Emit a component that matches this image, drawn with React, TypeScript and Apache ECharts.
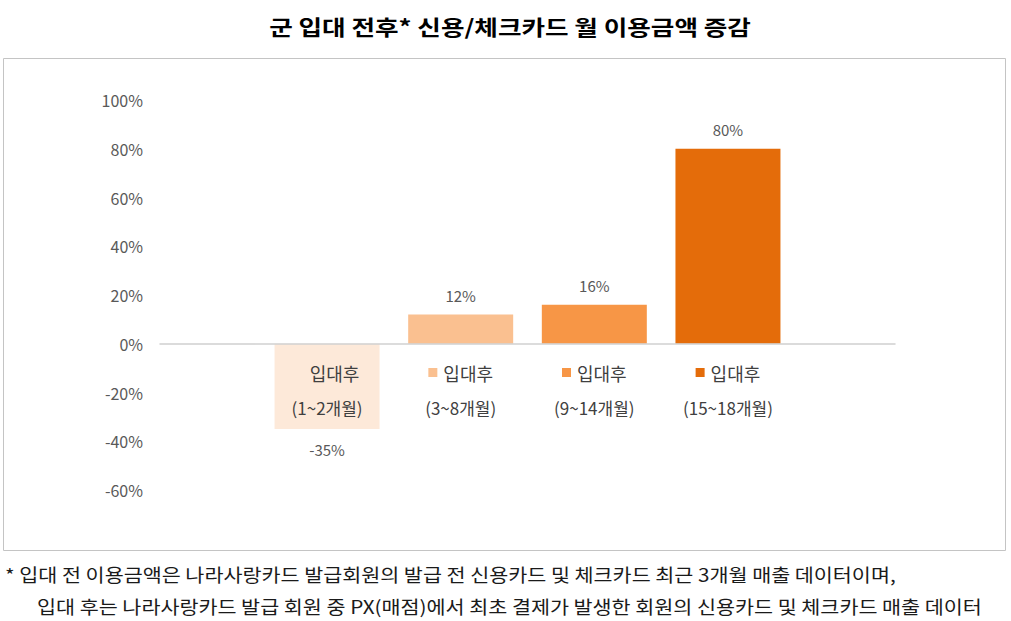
import React, { useRef, useEffect } from 'react';
import * as echarts from 'echarts';

const FONT = '"Noto Sans CJK KR", "Noto Sans", sans-serif';

// 입대 후 기간별 월 이용금액 증감률 (%)
const periods = ['1~2개월', '3~8개월', '9~14개월', '15~18개월'];
const changes = [-35, 12, 16, 80];
const barColors = ['#FDE9D9', '#FAC090', '#F79646', '#E46C0A'];

const titleText = '군 입대 전후* 신용/체크카드 월 이용금액 증감';
const noteLines = [
  '* 입대 전 이용금액은 나라사랑카드 발급회원의 발급 전 신용카드 및 체크카드 최근 3개월 매출 데이터이며,',
  '입대 후는 나라사랑카드 발급 회원 중 PX(매점)에서 최초 결제가 발생한 회원의 신용카드 및 체크카드 매출 데이터',
];

const App: React.FC = () => {
  const chartRef = useRef<HTMLDivElement>(null);

  useEffect(() => {
    document.body.style.margin = '0';
    if (!chartRef.current) return;
    const chart = echarts.init(chartRef.current, null, { renderer: 'svg' });

    const rich: Record<string, any> = {
      sp: { width: 6 },
      t: { fontSize: 18, color: '#404040', lineHeight: 35, fontFamily: FONT },
      p: { fontSize: 17, color: '#404040', lineHeight: 35, fontFamily: FONT },
    };
    barColors.forEach((c, i) => {
      rich['sq' + i] = { width: 9, height: 9, backgroundColor: c };
    });

    chart.setOption({
      animation: false,
      textStyle: { fontFamily: FONT },
      grid: { left: 160, right: 116, top: 100, bottom: 131 },
      xAxis: {
        type: 'value',
        z: 5, // keep the category labels above the negative bar
        min: -0.25,
        max: 5.25,
        splitLine: { show: false },
        axisTick: { show: false },
        axisLine: { show: true, onZero: true, lineStyle: { color: '#d0d0d0', width: 1.5 } },
        axisLabel: {
          customValues: periods.map((_, i) => i + 1),
          // labels sit just under the zero line, not at the grid bottom
          margin: -135,
          align: 'center',
          formatter: (v: number) => {
            const i = Math.round(v) - 1;
            return `{sq${i}| }{sp| }{t|입대후}\n{p|(${periods[i]})}`;
          },
          rich,
        },
      },
      yAxis: {
        type: 'value',
        min: -60,
        max: 100,
        interval: 20,
        splitLine: { show: false },
        axisLine: { show: false },
        axisTick: { show: false },
        axisLabel: {
          formatter: '{value}%',
          fontSize: 16,
          color: '#595959',
          margin: 17,
          fontFamily: FONT,
        },
      },
      series: [
        {
          type: 'bar',
          z: 2,
          barWidth: 105,
          data: changes.map((v, i) => ({
            value: [i + 1, v],
            itemStyle: { color: barColors[i] },
            label: { position: v < 0 ? 'bottom' : 'top', distance: v < 0 ? 13 : 12 },
          })),
          label: {
            show: true,
            fontSize: 15,
            color: '#595959',
            fontFamily: FONT,
            formatter: (p: any) => `${p.value[1]}%`,
          },
        },
      ],
      graphic: [
        {
          type: 'rect',
          shape: { x: 3.5, y: 58.5, width: 1002, height: 492 },
          style: { fill: 'none', stroke: '#c4c4c4', lineWidth: 1 },
          silent: true,
        },
        {
          type: 'text',
          x: 510,
          y: 26,
          scaleX: 1.22,
          style: {
            text: titleText, fontSize: 21, fontWeight: 'bold', fill: '#000', fontFamily: FONT,
            align: 'center', verticalAlign: 'middle',
          },
        },
        {
          type: 'text',
          x: 5,
          y: 575,
          scaleX: 1.15,
          style: { text: noteLines[0], fontSize: 18, fill: '#1a1a1a', fontFamily: FONT, verticalAlign: 'middle' },
        },
        {
          type: 'text',
          x: 37,
          y: 607,
          scaleX: 1.15,
          style: { text: noteLines[1], fontSize: 18, fill: '#1a1a1a', fontFamily: FONT, verticalAlign: 'middle' },
        },
      ],
    });

    return () => { chart.dispose(); };
  }, []);

  return <div ref={chartRef} style={{ width: 1011, height: 621 }} />;
};

export default App;
